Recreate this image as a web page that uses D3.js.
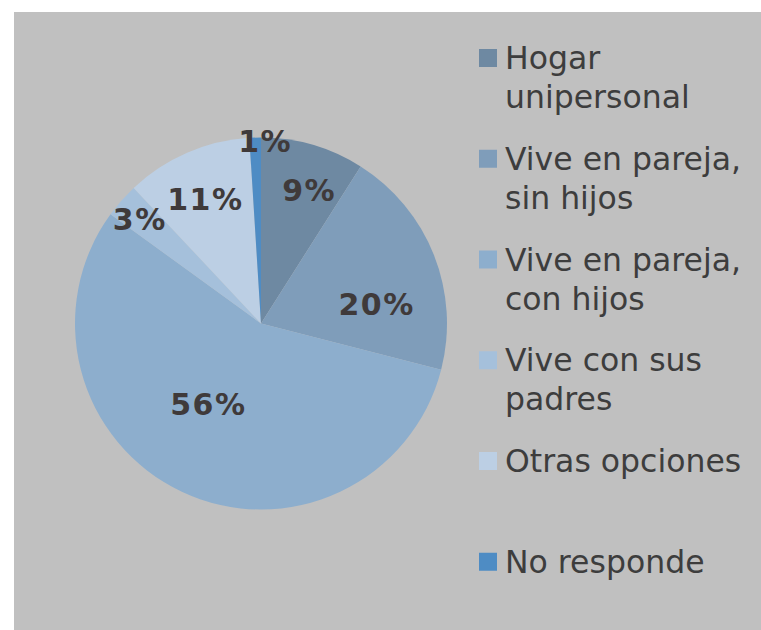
<!DOCTYPE html>
<html lang="es">
<head>
<meta charset="UTF-8">
<title>Pie</title>
<script src="https://d3js.org/d3.v7.min.js"></script>
<style>
body, html { margin: 0; padding: 0; background: #fff; }
.slice-label { font-family: "DejaVu Sans", Verdana, sans-serif; font-weight: bold; font-size: 30px; letter-spacing: 1.5px; fill: #3f3a3a; text-anchor: middle; }
.legend-text { font-family: "DejaVu Sans", Verdana, sans-serif; font-size: 31.5px; fill: #3d3d3d; }
</style>
</head>
<body>
<script>
// data
var categories = [
	["Hogar", "unipersonal"],
	["Vive en pareja,", "sin hijos"],
	["Vive en pareja,", "con hijos"],
	["Vive con sus", "padres"],
	["Otras opciones"],
	["No responde"]
];
var values = [9, 20, 56, 3, 11, 1];
var colors = ["#6e89a2", "#7f9dba", "#8daecd", "#a5c0db", "#bccfe4", "#4e8cc4"];

// label placement: [radius fraction, angle shift in degrees]
var labelNudge = [[0.76, 3.7], [0.63, 12], [0.52, 7.8], [0.86, -0.7], [0.73, -0.8], [0.98, 3.1]];

var w = 761, h = 630;
var cx = 261, cy = 323.5, r = 186;

var svg = d3.select("body").append("svg")
	.attr("width", w)
	.attr("height", h);

svg.append("rect")
	.attr("x", 14).attr("y", 12)
	.attr("width", w - 14).attr("height", h - 12)
	.style("fill", "#c0c0c0");

var pie = d3.pie().sort(null).value(function(d){ return d; });
var arc = d3.arc().innerRadius(0).outerRadius(r);
var arcs = pie(values);

var g = svg.append("g").attr("transform", "translate(" + cx + "," + cy + ")");

g.selectAll(".slice")
	.data(arcs)
	.enter()
		.append("path")
		.classed("slice", true)
		.attr("d", arc)
		.style("fill", function(d, i){ return colors[i]; });

g.selectAll(".slice-label")
	.data(arcs)
	.enter()
		.append("text")
		.classed("slice-label", true)
		.attr("transform", function(d, i){
			var a = (d.startAngle + d.endAngle) / 2 + labelNudge[i][1] * Math.PI / 180;
			var rr = r * labelNudge[i][0];
			return "translate(" + (rr * Math.sin(a)) + "," + (-rr * Math.cos(a)) + ")";
		})
		.attr("dy", "0.36em")
		.text(function(d){ return d.data + "%"; });

// legend
var legendX = 479, baseline0 = 69, step = 100.75, lineH = 39, sq = 18;

var legend = svg.selectAll(".legend")
	.data(categories)
	.enter()
		.append("g")
		.classed("legend", true)
		.attr("transform", function(d, i){ return "translate(" + legendX + "," + (baseline0 + i * step) + ")"; });

legend.append("rect")
	.attr("x", 0).attr("y", -20)
	.attr("width", sq).attr("height", sq)
	.style("fill", function(d, i){ return colors[i]; });

legend.append("text")
	.classed("legend-text", true)
	.attr("x", 26)
	.attr("y", 0)
	.selectAll("tspan")
	.data(function(d){ return d; })
	.enter()
		.append("tspan")
		.attr("x", 26)
		.attr("y", function(d, j){ return j * lineH; })
		.text(function(d){ return d; });
</script>
</body>
</html>
